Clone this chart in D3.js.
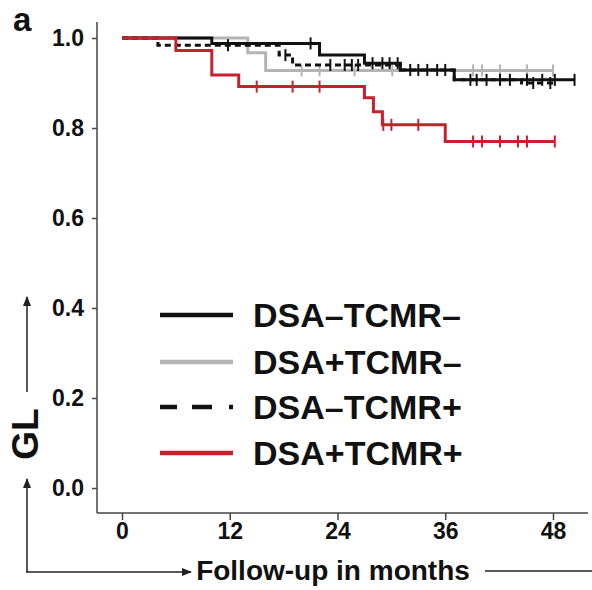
<!DOCTYPE html>
<html>
<head>
<meta charset="utf-8">
<script src="https://cdn.jsdelivr.net/npm/d3@7"></script>
<style>
  body { margin: 0; background: #fff; }
  svg text { font-family: "Liberation Sans", Arial, sans-serif; font-weight: bold; fill: #111; }
  svg .tick text { font-size: 23px !important; }
</style>
</head>
<body>
<div id="chart"></div>
<script>
// Kaplan-Meier steps (months, survival)
const groups = ["DSA–TCMR–", "DSA+TCMR–", "DSA–TCMR+", "DSA+TCMR+"];

const solidT = [0, 10, 22, 27, 31, 37];
const solidS = [1, 0.988, 0.962, 0.944, 0.929, 0.907];
const solidEnd = 50.4;
const solidCens = [21, 27.9, 29, 29.8, 30.7, 32.1, 33, 34, 35.1, 36, 38.8, 40.6, 42.1, 43.2, 45.1, 46.8, 48.2, 50.4];

const grayT = [0, 14, 16];
const grayS = [1, 0.967, 0.928];
const grayEnd = 48;
const grayCens = [20, 22, 25.9, 30.1, 39.1, 40.1, 42.1, 45.1, 48];

const dashT = [0, 4, 17.5, 19, 31, 37, 44.5];
const dashS = [1, 0.984, 0.962, 0.94, 0.929, 0.907, 0.9];
const dashEnd = 48.2;
const dashCens = [11.8, 18.2, 23.2, 24.8, 25.6, 26.3, 39.5, 45.8, 47.7];

const redT = [0, 6, 10, 13, 27, 28, 29, 36];
const redS = [1, 0.972, 0.918, 0.892, 0.867, 0.836, 0.807, 0.77];
const redEnd = 48.2;
const redCens = [15, 19, 22, 29.1, 30, 33, 39.1, 40.1, 42.1, 44.1, 45.1, 48.2];

const xTicks = [0, 12, 24, 36, 48];
const yTicks = [0, 0.2, 0.4, 0.6, 0.8, 1.0];

const W = 592, H = 590;
const svg = d3.select("#chart").append("svg").attr("width", W).attr("height", H);

const x = d3.scaleLinear().domain([0, 48]).range([122, 553]);
const y = d3.scaleLinear().domain([0, 1]).range([488, 38]);

const axisCol = "#444";

// axis lines
svg.append("line").attr("x1", 97).attr("x2", 97).attr("y1", 22).attr("y2", 513)
  .attr("stroke", axisCol).attr("stroke-width", 1.5);
svg.append("line").attr("x1", 97).attr("x2", 588).attr("y1", 513).attr("y2", 513)
  .attr("stroke", axisCol).attr("stroke-width", 1.5);

const yAxis = svg.append("g").attr("transform", "translate(97,0)")
  .call(d3.axisLeft(y).tickValues(yTicks).tickFormat(d3.format(".1f")).tickSize(5).tickPadding(8));
const xAxis = svg.append("g").attr("transform", "translate(0,513)")
  .call(d3.axisBottom(x).tickValues(xTicks).tickSize(7).tickPadding(3));
[yAxis, xAxis].forEach(g => {
  g.attr("font-size", 23).attr("font-family", null);
  g.select(".domain").remove();
  g.selectAll(".tick line").attr("stroke", axisCol).attr("stroke-width", 1.5);
  g.selectAll(".tick text").attr("fill", "#111");
});

function drawCurve(T, S, end, cens, color, dash) {
  const pts = T.map((t, i) => [t, S[i]]);
  pts.push([end, S[S.length - 1]]);
  const line = d3.line().x(d => x(d[0])).y(d => y(d[1])).curve(d3.curveStepAfter);
  svg.append("path").datum(pts).attr("d", line)
    .attr("fill", "none").attr("stroke", color).attr("stroke-width", 3)
    .attr("stroke-dasharray", dash || null);
  const sAt = t => {
    let s = S[0];
    T.forEach((tt, i) => { if (tt <= t) s = S[i]; });
    return s;
  };
  svg.append("g").selectAll("line").data(cens).join("line")
    .attr("x1", d => x(d)).attr("x2", d => x(d))
    .attr("y1", d => y(sAt(d)) - 6).attr("y2", d => y(sAt(d)) + 6)
    .attr("stroke", color).attr("stroke-width", 2);
}

const colors = ["#111", "#b4b4b4", "#111", "#c8202c"];
const dashes = [null, null, "6,4", null];

drawCurve(grayT, grayS, grayEnd, grayCens, colors[1]);
drawCurve(solidT, solidS, solidEnd, solidCens, colors[0]);
drawCurve(dashT, dashS, dashEnd, dashCens, colors[2], dashes[2]);
drawCurve(redT, redS, redEnd, redCens, colors[3]);

// legend
const legRows = [315, 362, 407, 453];
const leg = svg.append("g");
groups.forEach((g, i) => {
  leg.append("line").attr("x1", 160).attr("x2", 233).attr("y1", legRows[i]).attr("y2", legRows[i])
    .attr("stroke", colors[i]).attr("stroke-width", 4.5)
    .attr("stroke-dasharray", i === 2 ? "17,15,20,17,4,100" : null);
  leg.append("text").attr("x", 253).attr("y", legRows[i]).attr("dy", "0.35em")
    .style("font-size", "34px").text(g);
});

// panel letter
svg.append("text").attr("x", 13).attr("y", 31).style("font-size", "33px").text("a");

// arrow markers
svg.append("defs").append("marker").attr("id", "arr")
  .attr("viewBox", "0 0 10 10").attr("refX", 9).attr("refY", 5)
  .attr("markerWidth", 7).attr("markerHeight", 7).attr("orient", "auto")
  .append("path").attr("d", "M0,1L10,5L0,9Z").attr("fill", "#222");

const arrowCol = "#222";
svg.append("line").attr("x1", 27).attr("x2", 27).attr("y1", 392).attr("y2", 297)
  .attr("stroke", arrowCol).attr("stroke-width", 1.5).attr("marker-end", "url(#arr)");
svg.append("path").attr("d", "M27,572V479")
  .attr("fill", "none").attr("stroke", arrowCol).attr("stroke-width", 1.5).attr("marker-end", "url(#arr)");
svg.append("line").attr("x1", 26).attr("x2", 191).attr("y1", 572).attr("y2", 572)
  .attr("stroke", arrowCol).attr("stroke-width", 1.5).attr("marker-end", "url(#arr)");
svg.append("line").attr("x1", 485).attr("x2", 592).attr("y1", 571).attr("y2", 571)
  .attr("stroke", arrowCol).attr("stroke-width", 1.5);

svg.append("text").attr("transform", "translate(38,434) rotate(-90)")
  .attr("text-anchor", "middle").style("font-size", "37px").text("GL");

svg.append("text").attr("x", 333).attr("y", 580).attr("text-anchor", "middle")
  .style("font-size", "28px").text("Follow-up in months");
</script>
</body>
</html>
